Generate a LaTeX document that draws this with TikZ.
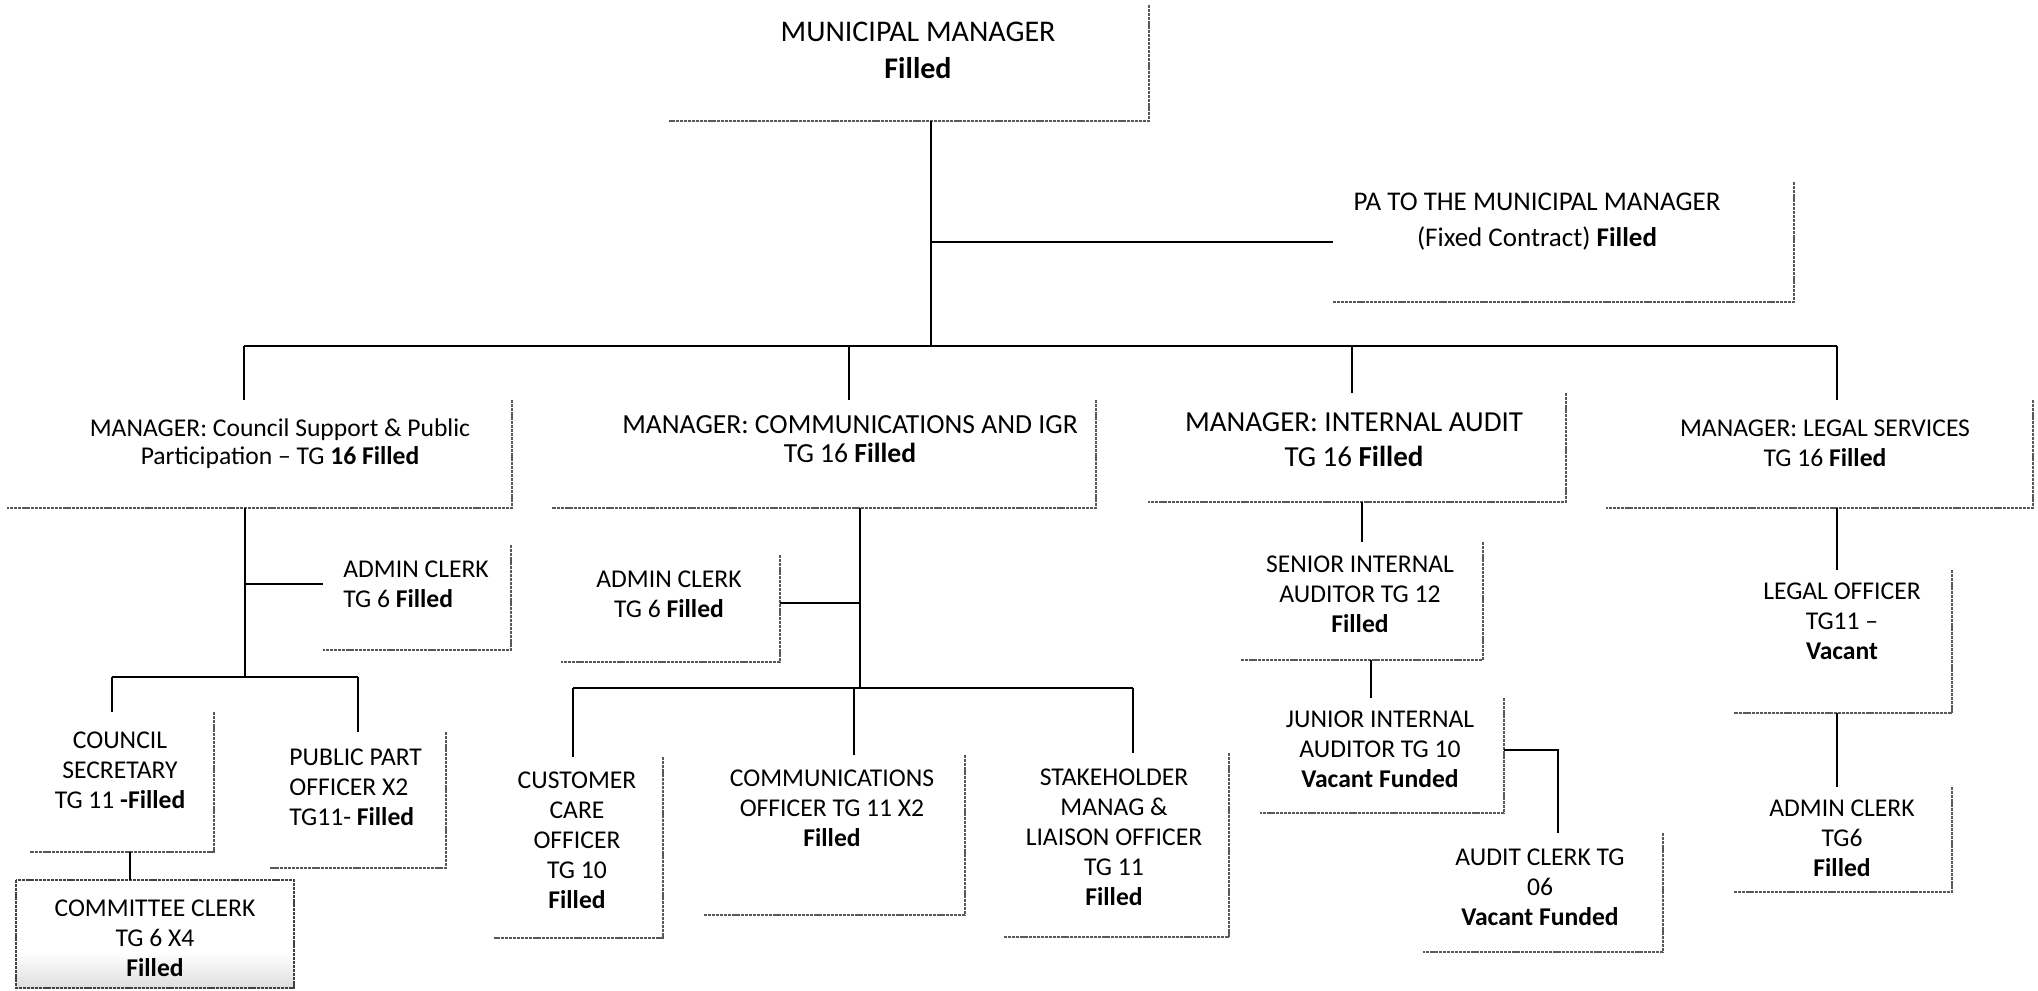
\documentclass[tikz,border=0pt]{standalone}
\usepackage{fontspec}
\setmainfont{Carlito}
\usetikzlibrary{fit}

\tikzset{
  conn/.style={draw=black, line width=1.1pt},
  rim/.style={draw=black!65, line width=0.55pt, dash pattern=on 1.6pt off 0.45pt},
  area/.style={inner sep=0pt, outer sep=0pt},
  lbl/.style={align=center, inner sep=0pt, font=\fontsize{12.8}{15}\selectfont},
  lblhead/.style={align=center, inner sep=0pt, font=\fontsize{12.8}{14}\selectfont},
  lblleft/.style={align=left, anchor=west, inner sep=0pt, font=\fontsize{12.8}{15}\selectfont},
}

% invisible post area: only its right and bottom rims are drawn
\newcommand\orgarea[5]{%
  \node[area, fit={(#2,#3) (#4,#5)}] (#1) {};
  \draw[rim] (#1.north east) -- (#1.south east) -- (#1.south west);%
}

\begin{document}
\begin{tikzpicture}[x=0.5pt, y=-0.5pt]
\useasboundingbox (0,0) rectangle (2038,990);

% ---------- top level ----------
\orgarea{mm}{669}{5}{1149}{121}
\node[align=center, inner sep=0pt, font=\fontsize{15}{18.5}\selectfont] (mm-t) at (918,50)
  {MUNICIPAL MANAGER\\\textbf{Filled}};

\orgarea{pa}{1333}{182}{1794}{302}
\node[align=center, inner sep=0pt, font=\fontsize{13.5}{18}\selectfont] (pa-t) at (1537,222)
  {PA TO THE MUNICIPAL MANAGER\\(Fixed Contract) \textbf{Filled}};

% ---------- managers ----------
\orgarea{mA}{7}{400}{512}{508}
\node[lblhead] (mA-t) at (280,444)
  {MANAGER: Council Support \& Public\\Participation -- TG \textbf{16 Filled}};

\orgarea{mB}{552}{400}{1096}{508}
\node[align=center, inner sep=0pt, font=\fontsize{13.8}{14.5}\selectfont] (mB-t) at (850,439)
  {MANAGER: COMMUNICATIONS AND IGR\\TG 16 \textbf{Filled}};

\orgarea{mC}{1148}{393}{1566}{502}
\node[align=center, inner sep=0pt, font=\fontsize{14.5}{17.5}\selectfont] (mC-t) at (1354,440)
  {MANAGER: INTERNAL AUDIT\\TG 16 \textbf{Filled}};

\orgarea{mD}{1606}{400}{2033}{508}
\node[lblhead, font=\fontsize{12.8}{15}\selectfont] (mD-t) at (1825,443)
  {MANAGER: LEGAL SERVICES\\TG 16 \textbf{Filled}};

% ---------- council support & public participation ----------
\orgarea{acA}{323}{545}{511}{650}
\node[lblleft] (acA-t) at (343,584) {ADMIN CLERK\\TG 6 \textbf{Filled}};

\orgarea{cs}{30}{712}{214}{852}
\node[lbl] (cs-t) at (120,770) {COUNCIL\\SECRETARY\\TG 11 \textbf{-Filled}};

\orgarea{pp}{270}{732}{446}{868}
\node[lblleft] (pp-t) at (289,787) {PUBLIC PART\\OFFICER X2\\TG11- \textbf{Filled}};

\node[area, fit={(16,880) (294,988)}] (cc) {};
\shade[top color=white, bottom color=black!13] ([yshift=18pt]cc.south west) rectangle (cc.south east);
\draw[rim, draw=black!75] (cc.north west) rectangle (cc.south east);
\node[lbl] (cc-t) at (155,938) {COMMITTEE CLERK\\TG 6 X4\\\textbf{Filled}};

% ---------- communications and IGR ----------
\orgarea{acB}{561}{555}{780}{662}
\node[lbl] (acB-t) at (669,594) {ADMIN CLERK\\TG 6 \textbf{Filled}};

\orgarea{cco}{494}{757}{663}{938}
\node[lbl] (cco-t) at (577,840) {CUSTOMER\\CARE\\OFFICER\\TG 10\\\textbf{Filled}};

\orgarea{co}{703}{755}{965}{915}
\node[lbl] (co-t) at (832,808) {COMMUNICATIONS\\OFFICER TG 11 X2\\\textbf{Filled}};

\orgarea{sh}{1004}{753}{1229}{937}
\node[lbl] (sh-t) at (1114,837) {STAKEHOLDER\\MANAG \&\\LIAISON OFFICER\\TG 11\\\textbf{Filled}};

% ---------- internal audit ----------
\orgarea{sia}{1241}{542}{1483}{660}
\node[lbl] (sia-t) at (1360,594) {SENIOR INTERNAL\\AUDITOR TG 12\\\textbf{Filled}};

\orgarea{jia}{1260}{698}{1504}{813}
\node[lbl] (jia-t) at (1380,749) {JUNIOR INTERNAL\\AUDITOR TG 10\\\textbf{Vacant Funded}};

\orgarea{acl}{1423}{833}{1663}{952}
\node[lbl] (acl-t) at (1540,887) {AUDIT CLERK TG\\06\\\textbf{Vacant Funded}};

% ---------- legal services ----------
\orgarea{lo}{1734}{570}{1952}{713}
\node[lbl] (lo-t) at (1842,621) {LEGAL OFFICER\\TG11 --\\\textbf{Vacant}};

\orgarea{acD}{1734}{787}{1952}{892}
\node[lbl] (acD-t) at (1842,838) {ADMIN CLERK\\TG6\\\textbf{Filled}};

% ---------- reporting lines ----------
\coordinate (jm) at (931,346);
\coordinate (jA) at (244,346);
\coordinate (jB) at (849,346);
\coordinate (jC) at (1352,346);
\coordinate (jD) at (1837,346);

\draw[conn] (mm.south -| jm) -- (jm);
\draw[conn] (pa.west -| jm) -- (pa.west);
\draw[conn] (jA) -- (jD);
\draw[conn] (jA) -- (jA |- mA.north);
\draw[conn] (jB) -- (jB |- mB.north);
\draw[conn] (jC) -- (jC |- mC.north);
\draw[conn] (jD) -- (jD |- mD.north);

% council support branch
\coordinate (kA) at (245,677);
\coordinate (kA1) at (112,677);
\coordinate (kA2) at (358,677);
\coordinate (kA3) at (130,866);
\draw[conn] (mA.south -| kA) -- (kA);
\draw[conn] (kA |- acA-t) -- (acA.west |- acA-t);
\draw[conn] (kA1) -- (kA2);
\draw[conn] (kA1) -- (kA1 |- cs.north);
\draw[conn] (kA2) -- (kA2 |- pp.north);
\draw[conn] (cs.south -| kA3) -- (cc.north -| kA3);

% communications branch
\coordinate (kB) at (860,688);
\coordinate (kB1) at (573,688);
\coordinate (kB2) at (854,688);
\coordinate (kB3) at (1133,688);
\coordinate (kB4) at (860,603);
\draw[conn] (mB.south -| kB) -- (kB);
\draw[conn] (acB.east |- kB4) -- (kB4);
\draw[conn] (kB1) -- (kB3);
\draw[conn] (kB1) -- (kB1 |- cco.north);
\draw[conn] (kB2) -- (kB2 |- co.north);
\draw[conn] (kB3) -- (kB3 |- sh.north);

% internal audit branch
\coordinate (kC) at (1362,520);
\coordinate (kC2) at (1371,680);
\coordinate (kC3) at (1558,750);
\draw[conn] (mC.south -| kC) -- (sia.north -| kC);
\draw[conn] (sia.south -| kC2) -- (jia.north -| kC2);
\draw[conn] (jia.east |- kC3) -- (kC3) -- (kC3 |- acl.north);

% legal branch
\coordinate (kD) at (1837,600);
\draw[conn] (mD.south -| kD) -- (lo.north -| kD);
\draw[conn] (lo.south -| kD) -- (acD.north -| kD);

\end{tikzpicture}
\end{document}
